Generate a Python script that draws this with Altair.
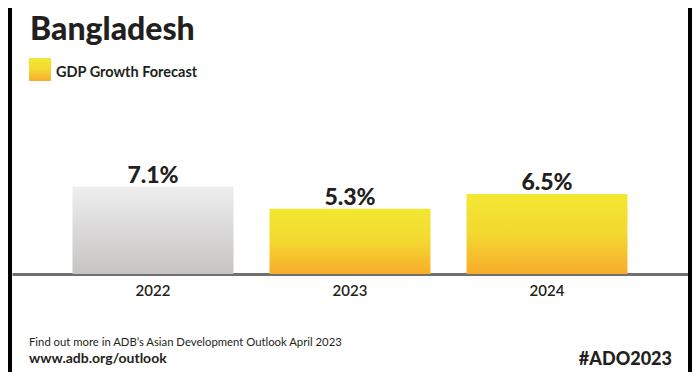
import altair as alt
import pandas as pd

years = ["2022", "2023", "2024"]
growth = [7.1, 5.3, 6.5]
kind = ["actual", "forecast", "forecast"]
labels = ["7.1%", "5.3%", "6.5%"]

title_text = "Bangladesh"
legend_text = "GDP Growth Forecast"
footer_1 = "Find out more in ADB\u2019s Asian Development Outlook April 2023"
footer_2 = "www.adb.org/outlook"
footer_3 = "#ADO2023"

df = pd.DataFrame({"year": years, "growth": growth, "kind": kind, "label": labels})

FONT = "Lato"
INK = "#231f20"

yellow = alt.Gradient(
    gradient="linear",
    stops=[alt.GradientStop(color="#f2e832", offset=0),
           alt.GradientStop(color="#f3d830", offset=0.5),
           alt.GradientStop(color="#f8ab2c", offset=1)],
    x1=0, x2=0, y1=0, y2=1,
)
grey = alt.Gradient(
    gradient="linear",
    stops=[alt.GradientStop(color="#eeeeee", offset=0),
           alt.GradientStop(color="#c6c4c3", offset=1)],
    x1=0, x2=0, y1=0, y2=1,
)

W, H = 676, 123

x = alt.X("year:N", sort=years,
          scale=alt.Scale(paddingInner=0.183, paddingOuter=0.307),
          axis=alt.Axis(title=None, labelAngle=0, ticks=False, grid=False,
                        domainColor="#707070", domainWidth=3,
                        labelFont=FONT, labelFontSize=15, labelFontWeight=600,
                        labelColor=INK, labelPadding=9))
y = alt.Y("growth:Q", scale=alt.Scale(domain=[0, 10]), axis=None)

base = alt.Chart(df)

bars_actual = base.transform_filter(alt.datum.kind == "actual").mark_bar(
    color=grey, cornerRadius=0).encode(x=x, y=y)
bars_fc = base.transform_filter(alt.datum.kind == "forecast").mark_bar(
    color=yellow, cornerRadius=0).encode(x=x, y=y)

value_text = base.mark_text(font=FONT, fontSize=23, fontWeight=900,
                            color=INK, baseline="alphabetic", dy=-4).encode(
    x=alt.X("year:N", sort=years), y="growth:Q", text="label:N")

one = pd.DataFrame({"t": [0]})

title_mark = alt.Chart(one).mark_text(
    text=title_text, font=FONT, fontSize=32, fontWeight=900, color=INK,
    align="left", baseline="alphabetic").encode(x=alt.value(18), y=alt.value(-111))

legend_sq = alt.Chart(one).mark_rect(color=yellow).encode(
    x=alt.value(17), x2=alt.value(39), y=alt.value(-93), y2=alt.value(-70))

legend_txt = alt.Chart(one).mark_text(
    text=legend_text, font=FONT, fontSize=14.5, fontWeight="bold", color=INK,
    align="left", baseline="alphabetic").encode(x=alt.value(44), y=alt.value(-74))

f1 = alt.Chart(one).mark_text(
    text=footer_1, font=FONT, fontSize=11.3, color=INK,
    align="left", baseline="alphabetic").encode(x=alt.value(17), y=alt.value(195))
f2 = alt.Chart(one).mark_text(
    text=footer_2, font=FONT, fontSize=14, fontWeight="bold", color=INK,
    align="left", baseline="alphabetic").encode(x=alt.value(17), y=alt.value(212))
f3 = alt.Chart(one).mark_text(
    text=footer_3, font=FONT, fontSize=18, fontWeight=900, color=INK,
    align="right", baseline="alphabetic").encode(x=alt.value(660), y=alt.value(214))

edge_l = alt.Chart(one).mark_rect(color="black").encode(
    x=alt.value(-4), x2=alt.value(0), y=alt.value(-143), y2=alt.value(H + 98))
edge_r = alt.Chart(one).mark_rect(color="black").encode(
    x=alt.value(W), x2=alt.value(W + 4), y=alt.value(-143), y2=alt.value(H + 98))

chart = alt.layer(
    bars_actual, bars_fc, value_text, title_mark, legend_sq, legend_txt,
    f1, f2, f3, edge_l, edge_r
).properties(
    width=W, height=H,
    padding={"left": 4, "right": 4, "top": 143, "bottom": 98},
    autosize=alt.AutoSizeParams(type="none"),
    background="white",
).configure_view(stroke=None)

chart.save("out.html", embed_options={"renderer": "svg", "actions": False})
